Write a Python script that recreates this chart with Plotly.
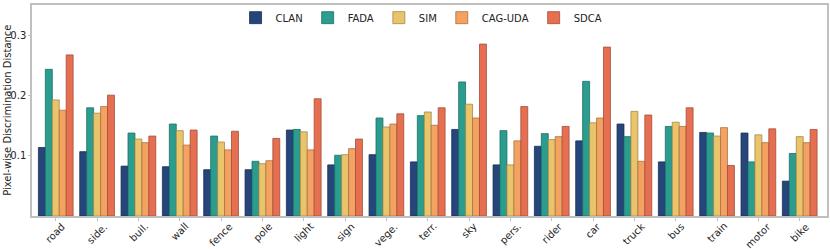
import plotly.graph_objects as go

categories = ["road", "side.", "buil.", "wall", "fence", "pole", "light", "sign", "vege.", "terr.",
              "sky", "pers.", "rider", "car", "truck", "bus", "train", "motor", "bike"]
methods = ["CLAN", "FADA", "SIM", "CAG-UDA", "SDCA"]
clan = [0.114, 0.107, 0.083, 0.082, 0.077, 0.077, 0.143, 0.085, 0.102, 0.090,
        0.144, 0.085, 0.116, 0.125, 0.153, 0.090, 0.139, 0.138, 0.058]
fada = [0.244, 0.180, 0.138, 0.153, 0.133, 0.091, 0.144, 0.101, 0.163, 0.167,
        0.223, 0.142, 0.137, 0.224, 0.132, 0.149, 0.138, 0.090, 0.104]
sim = [0.193, 0.171, 0.128, 0.142, 0.123, 0.087, 0.140, 0.102, 0.148, 0.173,
       0.186, 0.085, 0.127, 0.155, 0.174, 0.156, 0.133, 0.135, 0.132]
cag = [0.176, 0.182, 0.122, 0.118, 0.110, 0.092, 0.110, 0.112, 0.153, 0.151,
       0.163, 0.125, 0.132, 0.163, 0.091, 0.149, 0.147, 0.122, 0.122]
sdca = [0.268, 0.201, 0.133, 0.143, 0.141, 0.129, 0.195, 0.128, 0.170, 0.180,
        0.286, 0.182, 0.149, 0.281, 0.168, 0.180, 0.084, 0.145, 0.144]
y_ticks = [0.1, 0.2, 0.3]
y_title = "Pixel-wise Discrimination Distance"

series = [clan, fada, sim, cag, sdca]
colors = ["#26457a", "#2a9d8f", "#e9c46a", "#f4a261", "#e76f51"]
edges = ["#1a2f55", "#1d6e64", "#a3894a", "#ab7144", "#a14e39"]

fig = go.Figure()
for name, vals, c, e in zip(methods, series, colors, edges):
    fig.add_trace(go.Bar(
        x=list(range(len(categories))), y=vals, name=name,
        marker=dict(color=c, line=dict(color=e, width=0.8)),
    ))

# category labels centred under ticks, rotated 45 degrees
for i, lab in enumerate(categories):
    fig.add_annotation(x=i, y=0, xref="x", yref="paper", text=lab, showarrow=False,
                       textangle=-45, xanchor="center", yanchor="top", yshift=-2,
                       font=dict(size=10, color="#222222"))

fig.add_annotation(x=-0.031, y=0.5, xref="paper", yref="paper", text=y_title,
                   showarrow=False, textangle=-90, xanchor="center", yanchor="middle",
                   font=dict(size=10, color="#222222"))

fig.update_layout(
    width=830, height=249,
    margin=dict(l=32, r=3, t=3, b=33),
    barmode="group", bargap=0.16, bargroupgap=0,
    plot_bgcolor="white", paper_bgcolor="white",
    font=dict(family="DejaVu Sans", size=10, color="#222222"),
    legend=dict(orientation="h", x=0.49, xanchor="center", y=0.94, yanchor="middle",
                font=dict(size=10), bgcolor="rgba(0,0,0,0)",
                itemwidth=30, tracegroupgap=0),
    showlegend=True,
)
fig.update_xaxes(
    tickmode="array", tickvals=list(range(len(categories))), showticklabels=False,
    range=[-0.575, 18.66], automargin=False,
    showline=True, linecolor="#c0c0c0", linewidth=1.5, mirror=True,
    showgrid=False, zeroline=False, ticks="outside", ticklen=3, tickcolor="#c0c0c0",
)
fig.update_yaxes(
    range=[0, 0.351], tickvals=y_ticks, ticktext=[str(t) for t in y_ticks], automargin=False,
    showline=True, linecolor="#c0c0c0", linewidth=1.5, mirror=True,
    showgrid=False, zeroline=False, ticks="outside", ticklen=2, tickcolor="#c0c0c0",
    tickfont=dict(size=10),
)

fig.write_html("out.html", config={"displayModeBar": False},
               post_script="document.body.style.margin='0px';")
